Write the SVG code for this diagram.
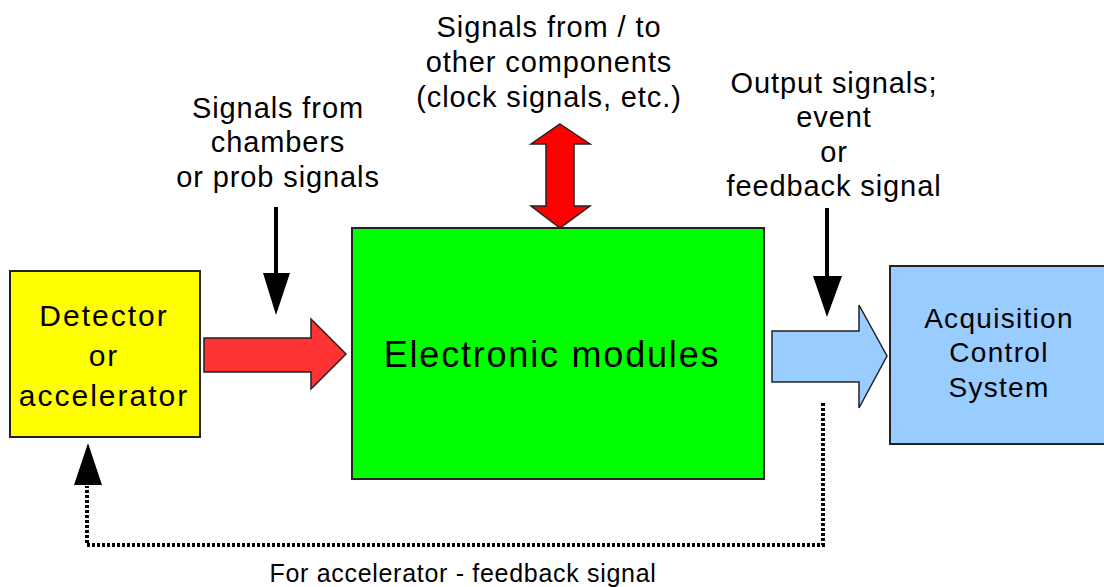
<svg xmlns="http://www.w3.org/2000/svg" width="1104" height="587" viewBox="0 0 1104 587">
<style>
text{font-family:"Liberation Sans",Arial,sans-serif;fill:#000;text-anchor:middle}
.lbl{font-size:29px;letter-spacing:0.9px}
.node{stroke:#222;stroke-width:2}
.dot{fill:none;stroke:#000;stroke-width:4;stroke-dasharray:3,2}
</style>
<rect width="1104" height="587" fill="#fff"/>
<g id="detector">
<rect class="node" x="10" y="271" width="190" height="166" fill="#ffff00"/>
<text x="104" y="326" font-size="30" letter-spacing="2">Detector</text>
<text x="104" y="366" font-size="30" letter-spacing="2">or</text>
<text x="104" y="406" font-size="30" letter-spacing="2">accelerator</text>
</g>
<g id="electronic">
<rect class="node" x="352" y="228" width="412" height="251" fill="#00ff00"/>
<text x="552" y="367" font-size="36" letter-spacing="1.8">Electronic modules</text>
</g>
<g id="acquisition">
<rect class="node" x="890" y="266" width="220" height="178" fill="#99ccff"/>
<text x="999" y="328" font-size="28" letter-spacing="1.3">Acquisition</text>
<text x="999" y="362" font-size="28" letter-spacing="1.3">Control</text>
<text x="999" y="397" font-size="28" letter-spacing="1.3">System</text>
</g>
<g id="labels">
<text class="lbl" x="549" y="37">Signals from / to</text>
<text class="lbl" x="549" y="72">other components</text>
<text class="lbl" x="549" y="107">(clock signals, etc.)</text>
<text class="lbl" x="278" y="118">Signals from</text>
<text class="lbl" x="278" y="152">chambers</text>
<text class="lbl" x="278" y="187">or prob signals</text>
<text class="lbl" x="834" y="93">Output signals;</text>
<text class="lbl" x="834" y="127">event</text>
<text class="lbl" x="834" y="162">or</text>
<text class="lbl" x="834" y="196">feedback signal</text>
<text x="463" y="582" font-size="25" letter-spacing="0.7" fill="#333">For accelerator - feedback signal</text>
</g>
<g id="connectors">
<polygon points="204,338 311,338 311,319 346,354 311,389 311,372 204,372" fill="#ff3333" stroke="#222" stroke-width="1.5"/>
<polygon points="560,124 590,144 574,144 574,206 590,206 560,228 531,206 546,206 546,144 531,144" fill="#ff0000" stroke="#222" stroke-width="1.5"/>
<polygon points="772,331 859,331 859,305 887,356 859,408 859,382 772,382" fill="#99ccff" stroke="#222" stroke-width="1.5"/>
<line x1="276" y1="207" x2="276" y2="275" stroke="#000" stroke-width="4"/>
<polygon points="263,273 290,273 276,315" fill="#000"/>
<line x1="827" y1="208" x2="827" y2="278" stroke="#000" stroke-width="4"/>
<polygon points="813,276 842,276 827,317" fill="#000"/>
<polyline class="dot" points="823,403 823,545 87,545 87,486"/>
<polygon points="74,485 102,485 88,443" fill="#000"/>
</g>
</svg>
